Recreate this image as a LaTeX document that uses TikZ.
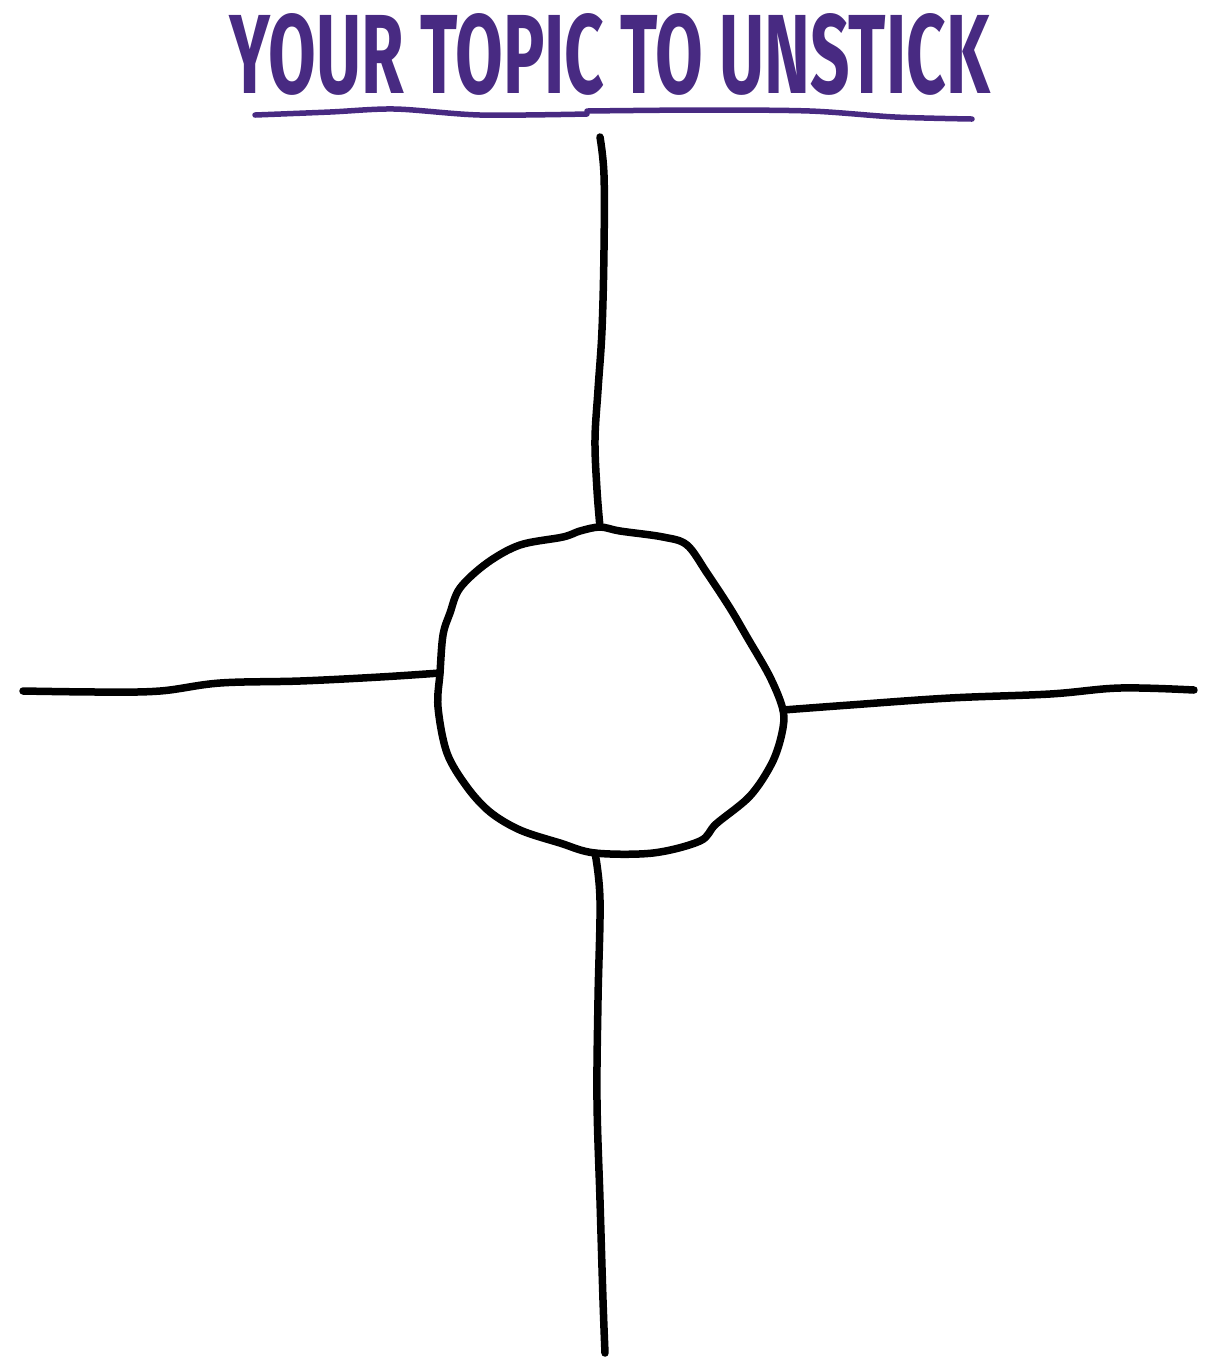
\documentclass[tikz,border=0pt]{standalone}
\usepackage{fontspec}
\setmainfont{Fira Sans}
\definecolor{inkpurple}{RGB}{72,42,130}
\tikzset{
  pen/.style={line width=0.75mm, line cap=round, line join=round, black},
  underpen/.style={line width=0.55mm, line cap=round, inkpurple},
}

\begin{document}
\begin{tikzpicture}[x=0.1mm,y=-0.1mm]
  \useasboundingbox (0,0) rectangle (1211,1357);
  % title and its underline
  \node[inkpurple, inner sep=0pt, anchor=south] (title) at (610,96)
    {\resizebox{76mm}{8.0mm}{\bfseries YOUR TOPIC TO UNSTICK}};
  \draw[underpen] plot[smooth, tension=0.5] coordinates
    {(255,115) (330,112) (395,109) (480,115) (587,114)};
  \draw[underpen] plot[smooth, tension=0.5] coordinates
    {(587,111) (700,110) (810,111) (895,117) (972,119)};
  % junctions on the blob
  \coordinate (top) at (600,527);
  \coordinate (left) at (440,673);
  \coordinate (right) at (783,710);
  \coordinate (bottom) at (595,853);
  % the central blob
  \draw[pen] plot[smooth cycle, tension=0.55] coordinates
    {(top) (580,531) (563,537) (520,545) (487,563) (460,588) (450,613) (443,635) (left)
     (438,707) (447,753) (467,787) (490,812) (520,830) (560,843) (bottom) (653,853)
     (700,841) (716,824) (750,796) (772,763) (782,733) (right) (770,677) (747,637)
     (730,608) (707,573) (687,545) (663,537) (620,531)};
  % the four arms
  \draw[pen] plot[smooth, tension=0.6] coordinates
    {(600,137) (604,175) (604,250) (602,330) (598,390) (595,440) (597,490) (top)};
  \draw[pen] plot[smooth, tension=0.6] coordinates
    {(bottom) (600,900) (598,1000) (597,1100) (600,1200) (603,1300) (605,1353)};
  \draw[pen] plot[smooth, tension=0.6] coordinates
    {(23,691) (100,692) (160,691) (220,683) (300,681) (380,677) (left)};
  \draw[pen] plot[smooth, tension=0.6] coordinates
    {(right) (850,705) (950,698) (1050,694) (1120,688) (1194,690)};
\end{tikzpicture}
\end{document}
